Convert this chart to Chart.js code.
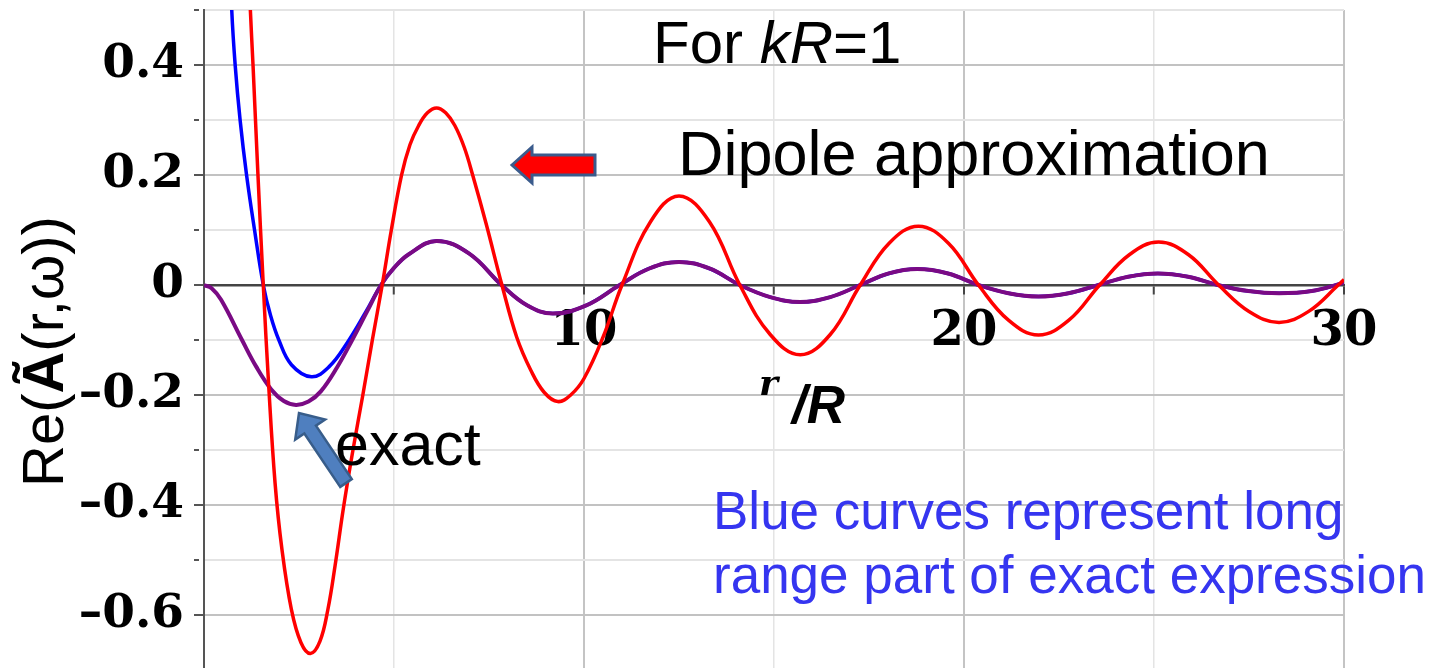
<!DOCTYPE html>
<html><head><meta charset="utf-8">
<script src="https://cdn.jsdelivr.net/npm/chart.js@4/dist/chart.umd.min.js"></script>
<style>html,body{margin:0;padding:0;background:#fff;overflow:hidden;}</style>
</head><body>
<canvas id="c" width="1435" height="668"></canvas>
<script>
// ---- data ----
const dipoleX = [1.08, 1.22, 1.29, 1.42, 1.56, 1.70, 1.87, 2.05, 2.30, 2.55, 2.80, 3.05, 3.26, 3.45, 3.67, 3.92, 4.18, 4.43, 4.69, 4.93, 5.20, 5.42, 5.65, 5.88, 6.12, 6.36, 6.60, 6.85, 7.07, 7.43, 7.84, 8.23, 8.60, 8.95, 9.31, 9.65, 10.0, 10.5, 11.0, 11.75, 12.5, 13.3, 14.1, 14.9, 15.69, 16.48, 17.27, 18.03, 18.8, 19.59, 20.38, 21.17, 21.96, 22.76, 23.57, 24.35, 25.12, 25.91, 26.7, 27.5, 28.29, 29.07, 29.85, 30];
const dipoleY = [0.75, 0.5, 0.4, 0.2, 0, -0.18, -0.36, -0.48, -0.59, -0.65, -0.67, -0.648, -0.59, -0.51, -0.405, -0.3, -0.2, -0.1, 0, 0.1, 0.2, 0.255, 0.29, 0.313, 0.322, 0.313, 0.29, 0.25, 0.2, 0.11, 0, -0.095, -0.155, -0.195, -0.212, -0.2, -0.17, -0.095, 0, 0.115, 0.162, 0.115, 0, -0.09, -0.127, -0.09, 0, 0.076, 0.107, 0.076, 0, -0.064, -0.091, -0.064, 0, 0.055, 0.078, 0.055, 0, -0.048, -0.068, -0.048, 0, 0.01];

const exactX = [0, 0.2, 0.45, 1.0, 1.37, 1.77, 2.1, 2.42, 2.75, 3.08, 3.5, 3.9, 4.3, 4.66, 5.0, 5.39, 6.12, 6.98, 7.83, 8.5, 9.18, 10.06, 10.94, 11.72, 12.5, 13.3, 14.1, 14.9, 15.69, 16.48, 17.27, 18.02, 18.77, 19.58, 20.38, 21.17, 21.96, 22.75, 23.54, 24.32, 25.1, 25.9, 26.68, 27.48, 28.29, 29.15, 30];
const exactY = [0, -0.006, -0.027, -0.1, -0.148, -0.19, -0.211, -0.218, -0.212, -0.193, -0.15, -0.1, -0.047, 0, 0.031, 0.056, 0.08, 0.057, 0, -0.037, -0.052, -0.037, 0, 0.03, 0.042, 0.03, 0, -0.022, -0.031, -0.022, 0, 0.021, 0.029, 0.021, 0, -0.015, -0.021, -0.015, 0, 0.015, 0.021, 0.015, 0, -0.011, -0.015, -0.011, 0.004];

const longRangeX = [0.62, 0.73, 0.82, 0.95, 1.12, 1.33, 1.56, 1.75, 1.97, 2.3, 2.83, 3.3, 3.77, 4.25, 4.66, 5.0, 5.39, 6.12, 6.98, 7.83, 8.5, 9.18, 10.06, 10.94, 11.72, 12.5, 13.3, 14.1, 14.9, 15.69, 16.48, 17.27, 18.02, 18.77, 19.58, 20.38, 21.17, 21.96, 22.75, 23.54, 24.32, 25.1, 25.9, 26.68, 27.48, 28.29, 29.15, 30];
const longRangeY = [0.7, 0.5, 0.4, 0.3, 0.2, 0.1, 0, -0.055, -0.1, -0.145, -0.167, -0.148, -0.105, -0.05, 0, 0.031, 0.056, 0.08, 0.057, 0, -0.037, -0.052, -0.037, 0, 0.03, 0.042, 0.03, 0, -0.022, -0.031, -0.022, 0, 0.021, 0.029, 0.021, 0, -0.015, -0.021, -0.015, 0, 0.015, 0.021, 0.015, 0, -0.011, -0.015, -0.011, 0.004];

const xTickValues = [10, 20, 30];
const xTickLabels = ['10', '20', '30'];
const yTickValues = [-0.6, -0.4, -0.2, 0, 0.2, 0.4];
const yTickLabels = ['\u20130.6', '\u20130.4', '\u20130.2', '0', '0.2', '0.4'];

const titleText = ['For ', 'kR', '=1'];
const dipoleText = 'Dipole approximation';
const exactText = 'exact';
const noteLines = ['Blue curves represent long', 'range part of exact expression'];
const yTitleParts = ['Re(', '\u00C3', '(r,\u03C9))'];
const xTitleParts = ['r', '/R'];

// ---- helpers ----
const pts = (xs, ys) => xs.map((x, i) => ({x: x, y: ys[i]}));
const near = (a, b) => Math.abs(a - b) < 1e-6;
const labelFor = (vals, labs, v) => { const i = vals.findIndex(t => near(t, v)); return i < 0 ? '' : labs[i]; };
const SANS = '"Liberation Sans", Arial, sans-serif';
const SERIF = '"DejaVu Serif", serif';

const overlay = {
  id: 'overlay',
  afterDatasetsDraw(chart) {
    const c = chart.ctx;
    c.save();
    c.textAlign = 'left';
    c.textBaseline = 'alphabetic';
    c.fillStyle = '#000';
    // For kR=1
    let x = 653;
    c.font = '60px ' + SANS; c.fillText(titleText[0], x, 63); x += c.measureText(titleText[0]).width;
    c.font = 'italic 60px ' + SANS; c.fillText(titleText[1], x, 63); x += c.measureText(titleText[1]).width;
    c.font = '60px ' + SANS; c.fillText(titleText[2], x, 63);
    // Dipole approximation
    c.font = '63px ' + SANS; c.fillText(dipoleText, 678, 175);
    // Blue note
    c.fillStyle = '#3535f0';
    c.font = '53px ' + SANS;
    c.fillText(noteLines[0], 713, 529);
    c.fillText(noteLines[1], 713, 593);
    // red arrow
    c.beginPath();
    c.moveTo(512, 165); c.lineTo(532, 147); c.lineTo(532, 155); c.lineTo(595, 155);
    c.lineTo(595, 175); c.lineTo(532, 175); c.lineTo(532, 183); c.closePath();
    c.fillStyle = '#ff0000'; c.fill();
    c.lineWidth = 3; c.strokeStyle = '#3b5b8c'; c.lineJoin = 'miter'; c.stroke();
    // blue arrow
    const tx = 299, ty = 413, bx = 346, by = 483;
    const ang = Math.atan2(ty - by, tx - bx), L = Math.hypot(tx - bx, ty - by);
    c.save(); c.translate(bx, by); c.rotate(ang);
    c.beginPath();
    c.moveTo(0, -7); c.lineTo(L - 20, -7); c.lineTo(L - 20, -18); c.lineTo(L, 0);
    c.lineTo(L - 20, 18); c.lineTo(L - 20, 7); c.lineTo(0, 7); c.closePath();
    c.fillStyle = '#4f7fbf'; c.fill();
    c.lineWidth = 2.5; c.strokeStyle = '#385d8a'; c.stroke();
    c.restore();
    // exact
    c.fillStyle = '#000';
    c.font = '61px ' + SANS; c.fillText(exactText, 335, 465);
    // x title
    c.font = 'italic bold 36px ' + SERIF; c.fillText(xTitleParts[0], 759, 395);
    c.font = 'italic bold 53px ' + SANS; c.fillText(xTitleParts[1], 792, 423);
    // y title
    c.save(); c.translate(63, 487); c.rotate(-Math.PI / 2);
    let yx = 0;
    c.font = '58px ' + SANS; c.fillText(yTitleParts[0], yx, 0); yx += c.measureText(yTitleParts[0]).width;
    c.font = 'bold 58px ' + SANS; c.fillText(yTitleParts[1], yx, 0); yx += c.measureText(yTitleParts[1]).width;
    c.font = '58px ' + SANS; c.fillText(yTitleParts[2], yx, 0);
    c.restore();
    c.restore();
  }
};

const isMajorY = v => Math.round(v * 10) % 2 === 0;

new Chart(document.getElementById('c'), {
  type: 'line',
  data: {
    datasets: [
      {label: 'Dipole approximation', data: pts(dipoleX, dipoleY), borderColor: '#ff0000', borderWidth: 3.5, order: 1},
      {label: 'exact', data: pts(exactX, exactY), borderColor: '#7a0a84', borderWidth: 4, order: 2},
      {label: 'long range part', data: pts(longRangeX, longRangeY), borderColor: '#0000ff', borderWidth: 3.5, order: 3}
    ]
  },
  options: {
    responsive: false,
    devicePixelRatio: 1,
    animation: false,
    layout: {padding: {top: 10, right: 91, bottom: 0, left: 0}},
    elements: {point: {radius: 0}, line: {tension: 0.4, fill: false}},
    plugins: {legend: {display: false}, tooltip: {enabled: false}},
    scales: {
      x: {
        type: 'linear', min: 0, max: 30, position: {y: 0},
        afterFit: s => { s.height = 0; s.paddingLeft = 0; s.paddingRight = 0; },
        ticks: {
          stepSize: 5, autoSkip: false, maxRotation: 0, padding: 11, color: '#000',
          font: {family: 'DejaVu Serif', weight: 'bold', size: 48},
          callback: v => labelFor(xTickValues, xTickLabels, v)
        },
        grid: {
          color: ctx => { const v = ctx.tick ? ctx.tick.value : 1; if (v === 0) return 'rgba(0,0,0,0)'; return v % 10 === 0 ? '#c4c4c4' : '#e4e4e4'; },
          lineWidth: ctx => { const v = ctx.tick ? ctx.tick.value : 1; return v % 10 === 0 ? 2 : 1.5; },
          tickColor: ctx => (ctx.tick && ctx.tick.value === 0) ? 'rgba(0,0,0,0)' : '#444',
          tickLength: 8, tickWidth: 2
        },
        border: {color: '#444', width: 2.5}
      },
      y: {
        type: 'linear', min: -0.6964, max: 0.5,
        afterFit: s => { s.width = 204; s.paddingTop = 0; s.paddingBottom = 0; },
        ticks: {
          stepSize: 0.1, includeBounds: false, autoSkip: false, padding: 10, color: '#000',
          font: {family: 'DejaVu Serif', weight: 'bold', size: 47},
          callback: v => labelFor(yTickValues, yTickLabels, v)
        },
        grid: {
          color: ctx => { const v = ctx.tick ? ctx.tick.value : 1; if (near(v, 0)) return '#444'; return isMajorY(v) ? '#c2c2c2' : '#e4e4e4'; },
          lineWidth: 2,
          tickColor: '#555', tickLength: 10, tickWidth: 2,
          tickBorderDash: ctx => (ctx.tick && !isMajorY(ctx.tick.value)) ? [5, 100] : []
        },
        border: {color: '#555', width: 2}
      }
    }
  },
  plugins: [overlay]
});
</script>
</body></html>
